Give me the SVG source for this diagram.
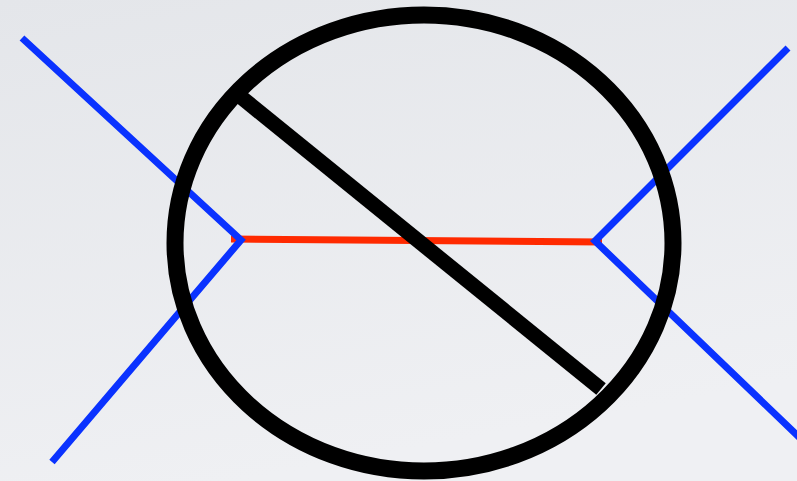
<svg xmlns="http://www.w3.org/2000/svg" width="797" height="481" viewBox="0 0 797 481">
  <defs>
    <linearGradient id="bg" x1="0" y1="0" x2="0.3" y2="1">
      <stop offset="0" stop-color="#e4e6ea"/>
      <stop offset="1" stop-color="#eff0f3"/>
    </linearGradient>
    <style>
      .blue { stroke: #0a32ff; stroke-width: 7; fill: none; stroke-linejoin: miter; stroke-linecap: butt; }
      .red { stroke: #ff2a00; stroke-width: 7; fill: none; }
      .black { stroke: #000000; fill: none; }
    </style>
  </defs>
  <rect width="797" height="481" fill="url(#bg)"/>
  <g id="connectors">
    <line id="red-edge" class="red" x1="231" y1="239" x2="602" y2="242"/>
    <polyline id="left-legs" class="blue" points="22,38 241,240 52,462"/>
    <polyline id="right-legs" class="blue" points="788,48 595,241 801,439"/>
  </g>
  <g id="loop">
    <ellipse class="black" cx="424" cy="243" rx="249" ry="228" stroke-width="17"/>
  </g>
  <g id="slash">
    <line class="black" x1="236" y1="93" x2="601" y2="389" stroke-width="15"/>
  </g>
</svg>
